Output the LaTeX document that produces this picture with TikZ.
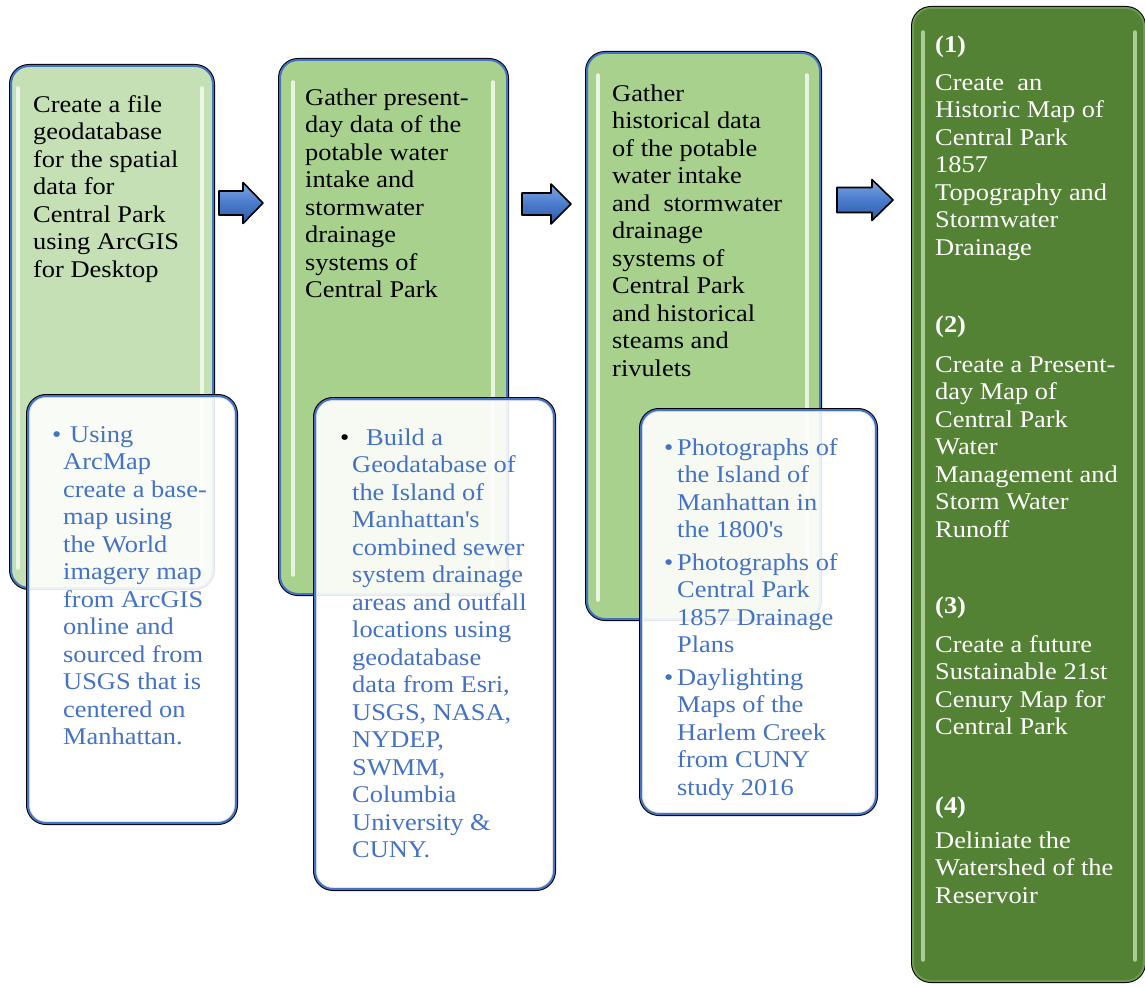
\documentclass[tikz,border=0pt]{standalone}
\usepackage{fontspec}
\setmainfont{Liberation Serif}[FakeStretch=1.1]
\usetikzlibrary{calc}
\definecolor{lg1}{HTML}{C5E0B4}
\definecolor{lg2}{HTML}{A9D18E}
\definecolor{dg}{HTML}{548235}
\definecolor{bl}{HTML}{4472C4}
\definecolor{gloss}{HTML}{F4FBEE}
\definecolor{gloss4}{HTML}{B9DCA0}
\definecolor{arrtop}{HTML}{7FA6E4}
\definecolor{arrmid}{HTML}{4A7BCC}
\definecolor{arrbot}{HTML}{2E5AA6}
\tikzset{
  box/.style={rectangle, rounded corners=18pt, inner sep=0pt, anchor=north west,
    preaction={draw=black, line width=4pt}, draw=bl, line width=2pt},
  greenbox/.style={box, fill=#1},
  subbox/.style={box, fill=white, fill opacity=0.9},
  strip/.style={draw=#1, line width=3.5pt, line cap=round, opacity=0.85},
  txt/.style={anchor=base west, align=left, inner sep=0pt,
    font=\fontsize{24}{27.5}\selectfont},
  bluetxt/.style={txt, text=bl},
  whitetxt/.style={txt, text=white},
  blockarr/.style={draw=black, line width=1.6pt, line join=round,
    top color=arrtop, bottom color=arrbot, middle color=arrmid}
}
% anchor base west of a multi-line node = baseline of its LAST line
\newcommand{\blkarrow}[7]{% name, x0, xh, x1, ym, shaft half, head half
  \coordinate (#1) at (#2,#5);
  \path[blockarr] (#1) ++(0,-#6) -- ++(#3-#2,0) -- ++(0,-#7+#6) -- ($(#4,#5)$) -- ($(#3,#5+#7)$) -- ($(#3,#5+#6)$) -- ($(#2,#5+#6)$) -- cycle;}
\begin{document}
\begin{tikzpicture}[x=1pt,y=-1pt]
\useasboundingbox (0,0) rectangle (1145,987);

% ---------- box 1 ----------
\node[greenbox=lg1, minimum width=202pt, minimum height=522pt] (b1) at (10,65) {};
\draw[strip=gloss] (18,88) -- (18,568);
\draw[strip=gloss] (202,88) -- (202,568);
\node[txt] (t1) at (33,277) {Create a file\\geodatabase\\for the spatial\\data for\\Central Park\\using ArcGIS\\for Desktop};

\node[subbox, minimum width=208pt, minimum height=427pt] (s1) at (27,395) {};
\node[bluetxt] (p1) at (52,442) {\textbullet};
\node[bluetxt] (u1) at (63,744.5) {\hspace{7pt}Using\\ArcMap\\create a base-\\map using\\the World\\imagery map\\from ArcGIS\\online and\\sourced from\\USGS that is\\centered on\\Manhattan.};

% ---------- box 2 ----------
\node[greenbox=lg2, minimum width=227pt, minimum height=534pt] (b2) at (279,59) {};
\draw[strip=gloss] (293,82) -- (293,575);
\draw[strip=gloss] (493,82) -- (493,575);
\node[txt] (t2) at (305,297.5) {Gather present-\\day data of the\\potable water\\intake and\\stormwater\\drainage\\systems of\\Central Park};

\node[subbox, minimum width=239pt, minimum height=490pt] (s2) at (314,398) {};
\node[txt] (p2) at (340,445) {\textbullet};
\node[bluetxt] (u2) at (352,857.5) {\hspace{14pt}Build a\\Geodatabase of\\the Island of\\Manhattan\textquotesingle s\\combined sewer\\system drainage\\areas and outfall\\locations using\\geodatabase\\data from Esri,\\USGS, NASA,\\NYDEP,\\SWMM,\\Columbia\\University \&\\CUNY.};

% ---------- box 3 ----------
\node[greenbox=lg2, minimum width=233pt, minimum height=566pt] (b3) at (586,52) {};
\draw[strip=gloss] (598,75) -- (598,600);
\draw[strip=gloss] (807,75) -- (807,600);
\node[txt] (t3) at (612,376) {Gather\\historical data\\of the potable\\water intake\\and\ \ stormwater\\drainage\\systems of\\Central Park\\and historical\\steams and\\rivulets};

\node[subbox, minimum width=235pt, minimum height=404pt] (s3) at (640,409) {};
\node[bluetxt] (p3a) at (664,455) {\textbullet};
\node[bluetxt] (u3a) at (677,537.5) {Photographs of\\the Island of\\Manhattan in\\the 1800\textquotesingle s};
\node[bluetxt] (p3b) at (664,570) {\textbullet};
\node[bluetxt] (u3b) at (677,652.5) {Photographs of\\Central Park\\1857 Drainage\\Plans};
\node[bluetxt] (p3c) at (664,685) {\textbullet};
\node[bluetxt] (u3c) at (677,795) {Daylighting\\Maps of the\\Harlem Creek\\from CUNY\\study 2016};

% ---------- box 4 ----------
\node[box, fill=dg, draw=dg!70!lg2, minimum width=231pt, minimum height=973pt] (b4) at (912,7) {};
\draw[strip=gloss4] (923,32) -- (923,960);
\draw[strip=gloss4] (1135,32) -- (1135,960);
\node[whitetxt, font=\fontsize{24}{27.5}\selectfont\bfseries] (n1) at (935,53) {(1)};
\node[whitetxt] (o1) at (935,255) {Create\ \ an\\Historic Map of\\Central Park\\1857\\Topography and\\Stormwater\\Drainage};
\node[whitetxt, font=\fontsize{24}{27.5}\selectfont\bfseries] (n2) at (935,332) {(2)};
\node[whitetxt] (o2) at (935,537) {Create a Present-\\day Map of\\Central Park\\Water\\Management and\\Storm Water\\Runoff};
\node[whitetxt, font=\fontsize{24}{27.5}\selectfont\bfseries] (n3) at (935,613) {(3)};
\node[whitetxt] (o3) at (935,734.5) {Create a future\\Sustainable 21st\\Cenury Map for\\Central Park};
\node[whitetxt, font=\fontsize{24}{27.5}\selectfont\bfseries] (n4) at (935,813) {(4)};
\node[whitetxt] (o4) at (935,903) {Deliniate the\\Watershed of the\\Reservoir};

% ---------- arrows ----------
\blkarrow{a1}{219}{243}{263}{203}{12}{20.5}
\blkarrow{a2}{522}{551}{571}{204}{11}{20}
\blkarrow{a3}{837}{872}{893}{200}{12.5}{20.5}
\end{tikzpicture}
\end{document}
